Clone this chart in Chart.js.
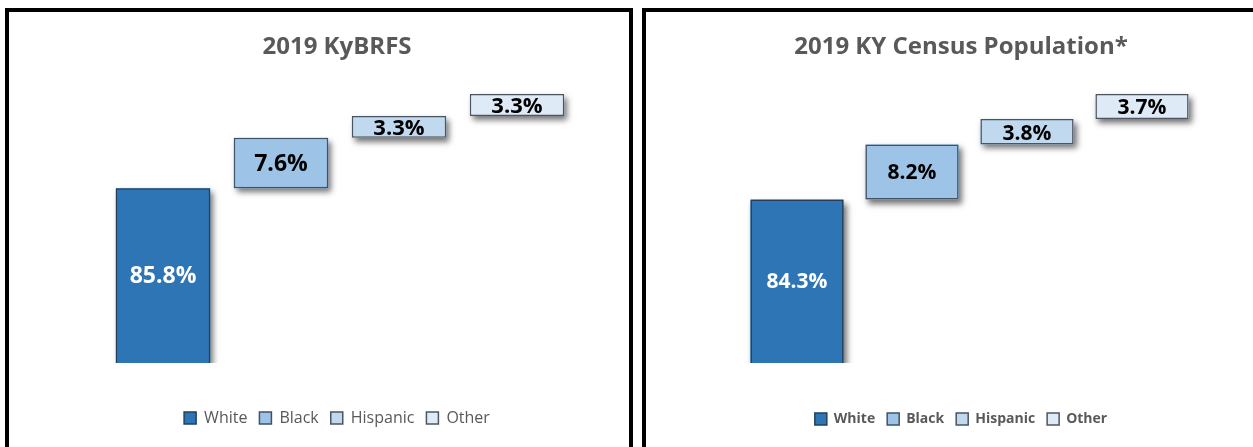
<!DOCTYPE html>
<html>
<head>
<meta charset="utf-8">
<script src="https://cdn.jsdelivr.net/npm/chart.js@4"></script>
<style>
  html, body { margin: 0; padding: 0; background: #fff; width: 1253px; height: 447px; overflow: hidden; }
  .panel { position: absolute; top: 8px; border: 4px solid #000; box-sizing: border-box; height: 470px; }
  #leftPanel { left: 5px; width: 628px; }
  #rightPanel { left: 642px; width: 640px; }
  canvas { position: absolute; left: 0; top: 0; }
</style>
</head>
<body>
<div class="panel" id="leftPanel"><canvas id="kybrfsChart"></canvas></div>
<div class="panel" id="rightPanel"><canvas id="censusChart"></canvas></div>
<script>
// categories and values
const categories = ['White', 'Black', 'Hispanic', 'Other'];
const kybrfsValues = [85.8, 7.6, 3.3, 3.3];
const censusValues = [84.3, 8.2, 3.8, 3.7];
const kybrfsAxisMin = 59.5;
const censusAxisMin = 60;
const axisMax = 100;

const fillColors = ['#2e75b6', '#9dc3e6', '#c0d9ef', '#deebf7'];
const edgeColors = ['#233f5c', '#3f5367', '#4a5561', '#4d5660'];

// each category floats on top of the running total of the ones before it
function floatingBars(values) {
  let total = 0;
  return values.map((v, i) => {
    const start = i === 0 ? 0 : total;
    total += v;
    return [start, +total.toFixed(1)];
  });
}

function barBox(chart, di) {
  const bar = chart.getDatasetMeta(di).data[di];
  if (!bar) return null;
  const p = bar.getProps(['x', 'y', 'base', 'width'], true);
  const area = chart.chartArea;
  return {
    x: p.x,
    left: p.x - p.width / 2,
    width: p.width,
    top: Math.max(Math.min(p.y, p.base), area.top),
    bottom: Math.min(Math.max(p.y, p.base), area.bottom)
  };
}

// bar element clips its own drawing, so the drop shadow goes underneath first
const shadowAndLabels = {
  id: 'shadowAndLabels',
  beforeDatasetsDraw(chart) {
    const ctx = chart.ctx;
    const area = chart.chartArea;
    chart.data.datasets.forEach((ds, di) => {
      const b = barBox(chart, di);
      if (!b) return;
      ctx.save();
      ctx.beginPath();
      ctx.rect(0, 0, chart.width, area.bottom);
      ctx.clip();
      ctx.shadowColor = 'rgba(0,0,0,0.55)';
      ctx.shadowBlur = 6;
      ctx.shadowOffsetX = 3;
      ctx.shadowOffsetY = 4;
      ctx.fillStyle = ds.backgroundColor;
      ctx.fillRect(b.left, b.top, b.width, b.bottom - b.top);
      ctx.restore();
    });
  },
  afterDatasetsDraw(chart, args, opts) {
    const ctx = chart.ctx;
    ctx.save();
    ctx.textAlign = 'center';
    ctx.textBaseline = 'middle';
    chart.data.datasets.forEach((ds, di) => {
      const b = barBox(chart, di);
      if (!b) return;
      const small = b.bottom - b.top < 30;
      ctx.font = 'bold ' + (small ? opts.smallSize : opts.bigSize) + 'px "Open Sans", sans-serif';
      ctx.fillStyle = di === 0 ? '#ffffff' : '#000000';
      ctx.fillText(opts.values[di].toFixed(1) + '%', b.x, (b.top + b.bottom) / 2 + (small ? 2 : 1));
    });
    ctx.restore();
  }
};

function makeChart(id, w, title, values, axisMin, cfg) {
  const canvas = document.getElementById(id);
  canvas.width = w;
  canvas.height = 436;
  canvas.style.width = w + 'px';
  canvas.style.height = '436px';
  const bars = floatingBars(values);
  const datasets = categories.map((c, i) => ({
    label: c,
    data: categories.map((_, j) => (j === i ? bars[i] : null)),
    backgroundColor: fillColors[i],
    borderColor: edgeColors[i],
    borderWidth: 1.5,
    borderSkipped: false
  }));
  return new Chart(canvas, {
    type: 'bar',
    data: { labels: categories, datasets: datasets },
    options: {
      responsive: false,
      animation: false,
      grouped: false,
      barPercentage: cfg.barPct,
      categoryPercentage: 1,
      layout: { padding: { left: cfg.padLeft, right: 0, top: 0, bottom: cfg.padBottom } },
      scales: {
        x: {
          display: true,
          grid: { display: false },
          border: { display: false },
          ticks: { display: false },
          afterFit: s => { s.height = cfg.xGap; }
        },
        y: {
          min: axisMin,
          max: axisMax,
          display: true,
          grid: { display: false },
          border: { display: false },
          ticks: { display: false },
          afterFit: s => { s.width = cfg.yWidth; }
        },
        yRight: {
          position: 'right',
          display: true,
          grid: { display: false },
          border: { display: false },
          ticks: { display: false },
          afterFit: s => { s.width = cfg.rightWidth; }
        }
      },
      plugins: {
        title: {
          display: true,
          text: title,
          color: '#595959',
          font: { family: '"Open Sans", sans-serif', size: 24, weight: 'bold', lineHeight: 1.2 },
          padding: { top: 20.6, bottom: 32.6 }
        },
        legend: {
          position: 'bottom',
          labels: {
            color: '#595959',
            boxWidth: 12,
            boxHeight: 12,
            padding: cfg.legendPad,
            font: { family: '"Open Sans", sans-serif', size: cfg.legendSize, weight: cfg.legendWeight }
          }
        },
        tooltip: { enabled: false },
        shadowAndLabels: { values: values, bigSize: cfg.bigSize, smallSize: cfg.smallSize }
      }
    },
    plugins: [shadowAndLabels]
  });
}

makeChart('kybrfsChart', 620, '2019 KyBRFS', kybrfsValues, kybrfsAxisMin, {
  barPct: 0.8, padLeft: 36, padBottom: 12, xGap: 35, yWidth: 59, rightWidth: 53,
  legendSize: 16, legendWeight: 'normal', legendPad: 12, bigSize: 23, smallSize: 22
});
makeChart('censusChart', 607, '2019 KY Census Population*', censusValues, censusAxisMin, {
  barPct: 0.81, padLeft: 23, padBottom: 12, xGap: 37, yWidth: 70.5, rightWidth: 53.5,
  legendSize: 14, legendWeight: 'bold', legendPad: 12, bigSize: 21, smallSize: 21
});
</script>
</body>
</html>
